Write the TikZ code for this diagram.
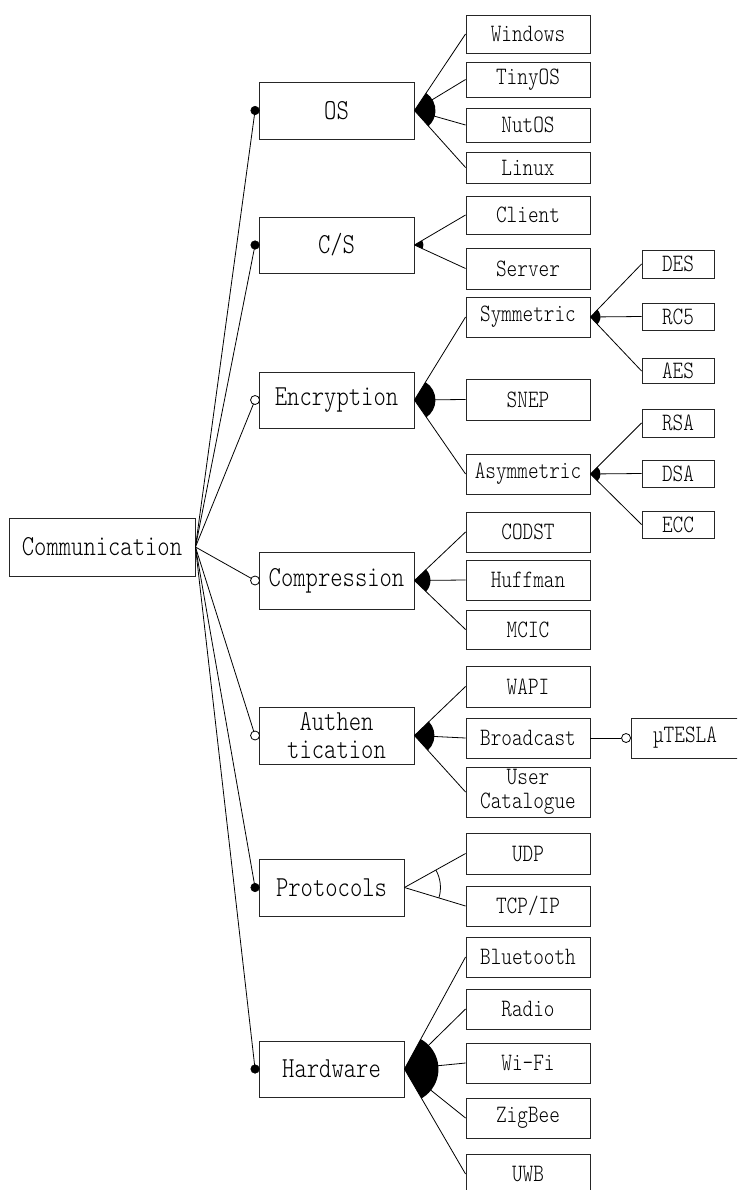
\documentclass[tikz,border=0pt]{standalone}
\usepackage{fontspec}
\usetikzlibrary{calc}
\newfontfamily\diagfont[FakeStretch=0.81]{lmmonolt10-regular.otf}

\tikzset{
  box/.style={draw=black!85, line width=0.9pt, fill=white, inner sep=0pt, align=center},
  big/.style={box, font=\diagfont\fontsize{29}{31}\selectfont},
  leaf/.style={box, font=\diagfont\fontsize{25}{26}\selectfont},
  mand/.style={circle, fill=black, draw=black, line width=0.6pt, minimum size=8.5pt, inner sep=0pt},
  opt/.style={circle, fill=white, draw=black, line width=0.8pt, minimum size=9pt, inner sep=0pt},
  link/.style={line width=0.8pt, black},
}

% filled sector of an or-group: apex, first child, last child, radius
\newcommand\orgroup[4]{%
  \fill let \p1=(#1), \p2=(#2.west), \p3=(#3.west),
    \n1={atan2(\y2-\y1,\x2-\x1)}, \n2={atan2(\y3-\y1,\x3-\x1)} in
    (\p1) -- ++(\n1:#4) arc[start angle=\n1, end angle=\n2, radius=#4] -- cycle;}
% open arc of an alternative group
\newcommand\altgroup[4]{%
  \draw[link] let \p1=(#1), \p2=(#2.west), \p3=(#3.west),
    \n1={atan2(\y2-\y1,\x2-\x1)}, \n2={atan2(\y3-\y1,\x3-\x1)} in
    ($(\p1)+(\n1:#4)$) arc[start angle=\n1, end angle=\n2, radius=#4];}

\begin{document}
\begin{tikzpicture}[x=1pt, y=-1pt]
\useasboundingbox (0,0) rectangle (737,1190);
\clip (0,0) rectangle (737,1190);

% root
\node[big, minimum width=186pt, minimum height=58pt] (comm) at (102,547) {Communication};

% first level
\node[big, minimum width=155pt, minimum height=57pt] (os)   at (336.5,110.5) {OS};
\node[big, minimum width=155pt, minimum height=56pt] (cs)   at (336.5,245) {C/S};
\node[big, minimum width=155pt, minimum height=56pt] (enc)  at (336.5,400) {Encryption};
\node[big, minimum width=155pt, minimum height=57pt] (comp) at (336.5,580.5) {Compression};
\node[big, minimum width=155pt, minimum height=57pt] (auth) at (336.5,735.5) {Authen\\[-3pt]tication};
\node[big, minimum width=145pt, minimum height=57pt] (proto) at (331.5,887.5) {Protocols};
\node[big, minimum width=145pt, minimum height=56pt] (hw)   at (331.5,1069) {Hardware};

% leaves
\node[leaf, minimum width=124pt, minimum height=38pt] (win)   at (528,34) {Windows};
\node[leaf, minimum width=124pt, minimum height=35pt] (tiny)  at (528,79.5) {TinyOS};
\node[leaf, minimum width=124pt, minimum height=34pt] (nut)   at (528,125) {NutOS};
\node[leaf, minimum width=124pt, minimum height=31pt] (linux) at (528,167.5) {Linux};

\node[leaf, minimum width=124pt, minimum height=38pt] (client) at (528,215) {Client};
\node[leaf, minimum width=124pt, minimum height=41pt] (server) at (528,268.5) {Server};

\node[leaf, minimum width=124pt, minimum height=40pt] (sym)  at (528,317) {Symmetric};
\node[leaf, minimum width=124pt, minimum height=41pt] (snep) at (528,399.5) {SNEP};
\node[leaf, minimum width=124pt, minimum height=40pt] (asym) at (528,474) {Asymmetric};

\node[leaf, minimum width=72pt, minimum height=28pt] (des) at (678,264) {DES};
\node[leaf, minimum width=72pt, minimum height=27pt] (rc5) at (678,316.5) {RC5};
\node[leaf, minimum width=72pt, minimum height=25pt] (aes) at (678,371) {AES};
\node[leaf, minimum width=72pt, minimum height=28pt] (rsa) at (678,423) {RSA};
\node[leaf, minimum width=72pt, minimum height=27pt] (dsa) at (678,473.5) {DSA};
\node[leaf, minimum width=72pt, minimum height=27pt] (ecc) at (678,524.5) {ECC};

\node[leaf, minimum width=124pt, minimum height=40pt] (codst) at (528,532) {CODST};
\node[leaf, minimum width=124pt, minimum height=40pt] (huff)  at (528,580) {Huffman};
\node[leaf, minimum width=124pt, minimum height=39pt] (mcic)  at (528,629.5) {MCIC};

\node[leaf, minimum width=124pt, minimum height=41pt] (wapi)  at (528,686.5) {WAPI};
\node[leaf, minimum width=124pt, minimum height=40pt] (bcast) at (528,738) {Broadcast};
\node[leaf, minimum width=124pt, minimum height=50pt] (user)  at (528,792) {User\\[-2pt]Catalogue};
\node[leaf, minimum width=108pt, minimum height=40pt] (mu)    at (685,738) {\hspace*{-2pt}µTESLA\hspace*{-2pt}};

\node[leaf, minimum width=124pt, minimum height=41pt] (udp) at (528,853.5) {UDP};
\node[leaf, minimum width=124pt, minimum height=40pt] (tcp) at (528,906) {TCP/IP};

\node[leaf, minimum width=124pt, minimum height=40pt] (bt)    at (528,957) {Bluetooth};
\node[leaf, minimum width=124pt, minimum height=40pt] (radio) at (528,1009) {Radio};
\node[leaf, minimum width=124pt, minimum height=40pt] (wifi)  at (528,1063) {Wi-Fi};
\node[leaf, minimum width=124pt, minimum height=40pt] (zig)   at (528,1118) {ZigBee};
\node[leaf, minimum width=124pt, minimum height=40pt] (uwb)   at (528,1174) {UWB};

% connectors from the root, ending in mandatory / optional markers
\foreach \n/\k in {os/mand, cs/mand, enc/opt, comp/opt, auth/opt, proto/mand, hw/mand} {
  \draw[link] (comm.east) -- ($(\n.west)+(-3.5,0)$);
  \node[\k] (\n-dot) at ($(\n.west)+(-3.5,0)$) {};
}

% group connectors
\foreach \c in {win, tiny, nut, linux} \draw[link] (os.east) -- (\c.west);
\foreach \c in {client, server} \draw[link] (cs.east) -- (\c.west);
\foreach \c in {sym, snep, asym} \draw[link] (enc.east) -- (\c.west);
\foreach \c in {des, rc5, aes} \draw[link] (sym.east) -- (\c.west);
\foreach \c in {rsa, dsa, ecc} \draw[link] (asym.east) -- (\c.west);
\foreach \c in {codst, huff, mcic} \draw[link] (comp.east) -- (\c.west);
\foreach \c in {wapi, bcast, user} \draw[link] (auth.east) -- (\c.west);
\foreach \c in {udp, tcp} \draw[link] (proto.east) -- (\c.west);
\foreach \c in {bt, radio, wifi, zig, uwb} \draw[link] (hw.east) -- (\c.west);

% optional sub-feature of Broadcast
\node[opt] (mu-dot) at ($(mu.west)+(-4.5,0)$) {};
\draw[link] (bcast.east) -- (mu-dot);

% group symbols
\orgroup{os.east}{win}{linux}{21pt}
\orgroup{cs.east}{client}{server}{9pt}
\orgroup{enc.east}{sym}{asym}{21pt}
\orgroup{sym.east}{des}{aes}{10pt}
\orgroup{asym.east}{rsa}{ecc}{10pt}
\orgroup{comp.east}{codst}{mcic}{16pt}
\orgroup{auth.east}{wapi}{user}{20pt}
\altgroup{proto.east}{udp}{tcp}{36pt}
\orgroup{hw.east}{bt}{uwb}{34pt}
\end{tikzpicture}
\end{document}
